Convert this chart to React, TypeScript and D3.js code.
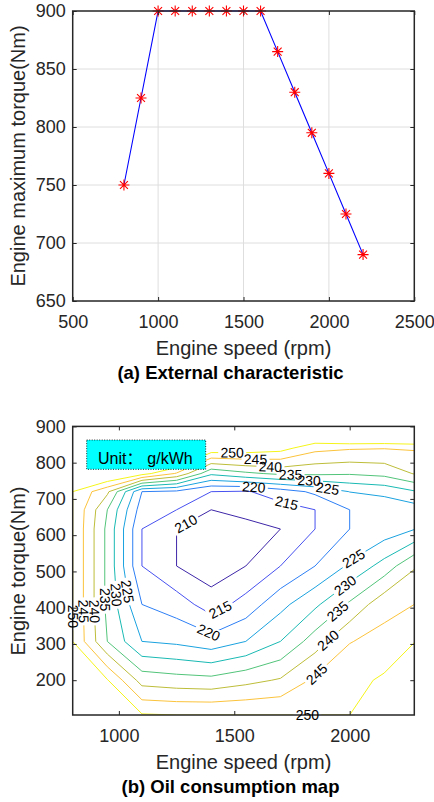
import React, { useEffect, useRef } from "react";
import * as d3 from "d3";

// (a) external characteristic
const speedPoints = [800, 900, 1000, 1100, 1200, 1300, 1400, 1500, 1600, 1700, 1800, 1900, 2000, 2100, 2200];
const maxTorque = [750, 825, 900, 900, 900, 900, 900, 900, 900, 865, 830, 795, 760, 725, 690];
const extXTicks = [500, 1000, 1500, 2000, 2500];
const extYTicks = [650, 700, 750, 800, 850, 900];

// (b) oil consumption map, g/kWh
const mapSpeeds = [800, 950, 1100, 1250, 1400, 1550, 1700, 1850, 2000, 2150, 2280];
const mapTorques = [104, 200, 307, 409, 515, 617, 670, 720, 770, 840, 900];
// one row per torque in mapTorques (bottom to top), one column per speed
const bsfcRows = [
  [262, 258, 250.4, 250, 250, 250, 250, 250, 250, 255, 262],
  [256, 250.3, 238, 237, 236.5, 238.5, 240.5, 246, 248.3, 250.8, 256],
  [250, 235, 225, 224, 222, 225, 230, 237.5, 244.8, 246.5, 249.8],
  [250, 233.8, 220, 217.6, 212.5, 217, 223.5, 229, 235.8, 243.5, 245],
  [250, 233.8, 215, 210, 207, 210, 215, 220, 225.8, 232, 239.5],
  [250, 233.8, 215, 210, 207.5, 208.5, 210, 215, 220, 222, 224.8],
  [250, 235, 217.5, 215, 210, 211.4, 213, 215, 220, 221, 222.5],
  [250, 241, 220, 219, 215, 214.5, 217.5, 221, 225.1, 226.5, 229.5],
  [253, 257, 252, 244.5, 231, 234, 236, 236, 235.5, 236.5, 240.3],
  [258, 265, 264, 268, 254, 253.5, 252, 246.5, 245.5, 245.2, 245.5],
  [262, 270, 270, 272, 265, 262, 262, 262, 268, 268, 270],
];
const bsfcLevels = [210, 215, 220, 225, 230, 235, 240, 245, 250];
const levelColors = ["#3e26a8", "#4751ef", "#2d7ff5", "#1aa2df", "#19b9b3", "#52c47a", "#bdbd3a", "#fbc33c", "#f5f51a"];
const mapXTicks = [1000, 1500, 2000];
const mapYTicks = [200, 300, 400, 500, 600, 700, 800, 900];
// [level, speed, torque] near where each inline label sits
const labelSpots = [
  [210, 1290, 632], [215, 1440, 394], [215, 1730, 697], [220, 1585, 734], [220, 1382, 321],
  [225, 1904, 729], [230, 1824, 754], [235, 1744, 780], [240, 1657, 794], [245, 1592, 803], [250, 1491, 821],
  [225, 2020, 532], [230, 1984, 458], [235, 1948, 390], [240, 1904, 312], [245, 1839, 229], [250, 1817, 100],
  [225, 1041, 445], [230, 998, 436], [235, 961, 422], [240, 903, 390], [245, 852, 390], [250, 801, 376],
];

const FONT = "'Liberation Sans', Arial, Helvetica, sans-serif";
const INK = "#262626";

function frame(g: any, x: any, y: any, xTicks: number[], yTicks: number[]) {
  const [xl, xr] = x.range();
  const [yb, yt] = y.range();
  const style = (a: any) => {
    a.select(".domain").remove();
    a.attr("font-size", 18).attr("font-family", FONT).attr("color", INK);
  };
  g.append("g").attr("transform", `translate(0,${yb})`)
    .call(d3.axisBottom(x).tickValues(xTicks).tickSize(-4).tickPadding(14.7).tickFormat(d3.format("d")))
    .call(style);
  g.append("g").attr("transform", `translate(${xl},0)`)
    .call(d3.axisLeft(y).tickValues(yTicks).tickSize(-4).tickPadding(7).tickFormat(d3.format("d")))
    .call(style);
  g.append("g").attr("transform", `translate(0,${yt})`)
    .call(d3.axisTop(x).tickValues(xTicks).tickSize(-4).tickFormat(() => ""))
    .call(style);
  g.append("g").attr("transform", `translate(${xr},0)`)
    .call(d3.axisRight(y).tickValues(yTicks).tickSize(-4).tickFormat(() => ""))
    .call(style);
  g.append("rect")
    .attr("x", xl).attr("y", yt).attr("width", xr - xl).attr("height", yb - yt)
    .attr("fill", "none").attr("stroke", INK).attr("stroke-width", 1.5);
}

function labels(svg: any, yb: number, xCenter: number, yCenter: number, xText: string, title: string, yText: string) {
  svg.append("text").attr("x", xCenter).attr("y", yb + 54).attr("text-anchor", "middle")
    .attr("font-family", FONT).attr("font-size", 20).attr("fill", INK).text(xText);
  svg.append("text").attr("x", 230.5).attr("y", yb + 78).attr("text-anchor", "middle")
    .attr("font-family", FONT).attr("font-size", 18.5).attr("font-weight", "bold").attr("fill", "#000").text(title);
  svg.append("text").attr("transform", `translate(25,${yCenter}) rotate(-90)`).attr("text-anchor", "middle")
    .attr("font-family", FONT).attr("font-size", 20).attr("fill", INK).text(yText);
}

export default function App() {
  const svgRef = useRef<SVGSVGElement>(null);

  useEffect(() => {
    document.body.style.margin = "0";
    const svg = d3.select(svgRef.current);
    svg.selectAll("*").remove();
    const defs = svg.append("defs");

    // ---------- (a) ----------
    const xa = d3.scaleLinear().domain([500, 2500]).range([72.7, 414.3]);
    const ya = d3.scaleLinear().domain([650, 900]).range([301, 11]);
    const ga = svg.append("g");
    ga.append("g").selectAll("line").data(extXTicks.slice(1, -1)).join("line")
      .attr("x1", (d) => xa(d)).attr("x2", (d) => xa(d)).attr("y1", 11).attr("y2", 301)
      .attr("stroke", "#dedede").attr("stroke-width", 1);
    ga.append("g").selectAll("line").data(extYTicks.slice(1, -1)).join("line")
      .attr("x1", 72.7).attr("x2", 414.3).attr("y1", (d) => ya(d)).attr("y2", (d) => ya(d))
      .attr("stroke", "#dedede").attr("stroke-width", 1);
    const pts = speedPoints.map((s, i) => [xa(s), ya(maxTorque[i])] as [number, number]);
    ga.append("path").attr("d", d3.line()(pts)).attr("fill", "none").attr("stroke", "#0000ff").attr("stroke-width", 1.1);
    const r = 5.5, q = r * 0.72;
    const star = `M${-r},0L${r},0M0,${-r}L0,${r}M${-q},${-q}L${q},${q}M${-q},${q}L${q},${-q}`;
    ga.append("g").selectAll("path").data(pts).join("path")
      .attr("transform", (d) => `translate(${d[0]},${d[1]})`).attr("d", star)
      .attr("stroke", "#ff0000").attr("stroke-width", 1.1).attr("fill", "none");
    frame(ga, xa, ya, extXTicks, extYTicks);
    labels(svg, 301, 243.5, 156, "Engine speed (rpm)", "(a) External characteristic", "Engine maximum torque(Nm)");

    // ---------- (b) ----------
    const xl = 72.7, xr = 414.3, yt = 426.4, yb = 715;
    const xb = d3.scaleLinear().domain([800, 2280]).range([xl, xr]);
    const yB = d3.scaleLinear().domain([104, 900]).range([yb, yt]);
    defs.append("clipPath").attr("id", "mapClip").append("rect")
      .attr("x", xl).attr("y", yt).attr("width", xr - xl).attr("height", yb - yt);

    const nx = mapSpeeds.length, ny = mapTorques.length;
    const fields = d3.contours().size([nx, ny]).thresholds(bsfcLevels)(bsfcRows.flat());
    const colAt = d3.scaleLinear().domain(d3.range(nx)).range(mapSpeeds);
    const rowAt = d3.scaleLinear().domain(d3.range(ny)).range(mapTorques);
    const project = (p: number[]) => [xb(colAt(p[0] - 0.5)), yB(rowAt(p[1] - 0.5))] as [number, number];
    const rings = fields.map((f: any) => f.coordinates.flatMap((poly: any) => poly.map((ring: any) => ring.map(project))));

    const inside = (p: number[]) => p[0] >= xl - 0.6 && p[0] <= xr + 0.6 && p[1] >= yt - 0.6 && p[1] <= yb + 0.6;
    const placed = labelSpots.map(([lev, s, t]) => {
      const li = bsfcLevels.indexOf(lev);
      const px = xb(s), py = yB(t);
      let best = { d: Infinity, x: px, y: py, a: 0 };
      rings[li].forEach((ring: number[][]) => {
        for (let i = 0; i < ring.length - 1; i++) {
          const a = ring[i], b = ring[i + 1];
          if (!inside(a) || !inside(b)) continue;
          const dx = b[0] - a[0], dy = b[1] - a[1];
          const L2 = dx * dx + dy * dy;
          if (L2 < 1e-6) continue;
          const u = Math.max(0, Math.min(1, ((px - a[0]) * dx + (py - a[1]) * dy) / L2));
          const qx = a[0] + u * dx, qy = a[1] + u * dy;
          const d = Math.hypot(px - qx, py - qy);
          if (d < best.d) best = { d, x: qx, y: qy, a: (Math.atan2(dy, dx) * 180) / Math.PI };
        }
      });
      let ang = best.a;
      if (ang > 90.5) ang -= 180;
      if (ang <= -89.5) ang += 180;
      return { li, lev, x: best.x, y: best.y, a: ang };
    });

    bsfcLevels.forEach((lev, li) => {
      const m = defs.append("mask").attr("id", `gap${li}`).attr("maskUnits", "userSpaceOnUse")
        .attr("x", 0).attr("y", 0).attr("width", 434).attr("height", 802);
      m.append("rect").attr("x", 0).attr("y", 0).attr("width", 434).attr("height", 802).attr("fill", "white");
      placed.filter((p) => p.li === li).forEach((p) => {
        m.append("rect").attr("x", -14).attr("y", -6.5).attr("width", 28).attr("height", 13)
          .attr("transform", `translate(${p.x},${p.y}) rotate(${p.a})`).attr("fill", "black");
      });
    });

    const gb = svg.append("g");
    const cg = gb.append("g").attr("clip-path", "url(#mapClip)");
    const line = d3.line();
    rings.forEach((rs: any, li: number) => {
      cg.append("g").attr("mask", `url(#gap${li})`).append("path")
        .attr("d", rs.map((rg: any) => line(rg) + "Z").join(""))
        .attr("fill", "none").attr("stroke", levelColors[li]).attr("stroke-width", 1);
    });

    // unit box
    gb.append("rect").attr("x", 86.7).attr("y", 440).attr("width", 119).attr("height", 29.3)
      .attr("fill", "#00ffff").attr("stroke", "#000").attr("stroke-width", 0.8).attr("stroke-dasharray", "1,1.5");
    gb.append("text").attr("x", 98).attr("y", 464).attr("font-family", `${FONT}, 'Noto Sans CJK SC'`)
      .attr("font-size", 16).attr("fill", "#000").text("Unit：");
    gb.append("text").attr("x", 147.3).attr("y", 464).attr("font-family", FONT)
      .attr("font-size", 16).attr("fill", "#000").text("g/kWh");

    frame(gb, xb, yB, mapXTicks, mapYTicks);

    gb.append("g").selectAll("text").data(placed).join("text")
      .attr("transform", (p) => `translate(${p.x},${p.y}) rotate(${p.a})`)
      .attr("text-anchor", "middle").attr("dy", "0.35em")
      .attr("font-family", FONT).attr("font-size", 14).attr("fill", "#000")
      .text((p) => p.lev);

    labels(svg, yb, 243.5, 571, "Engine speed (rpm)", "(b) Oil consumption map", "Engine torque(Nm)");
  }, []);

  return <svg ref={svgRef} width={434} height={802} style={{ display: "block", background: "#fff" }} />;
}
